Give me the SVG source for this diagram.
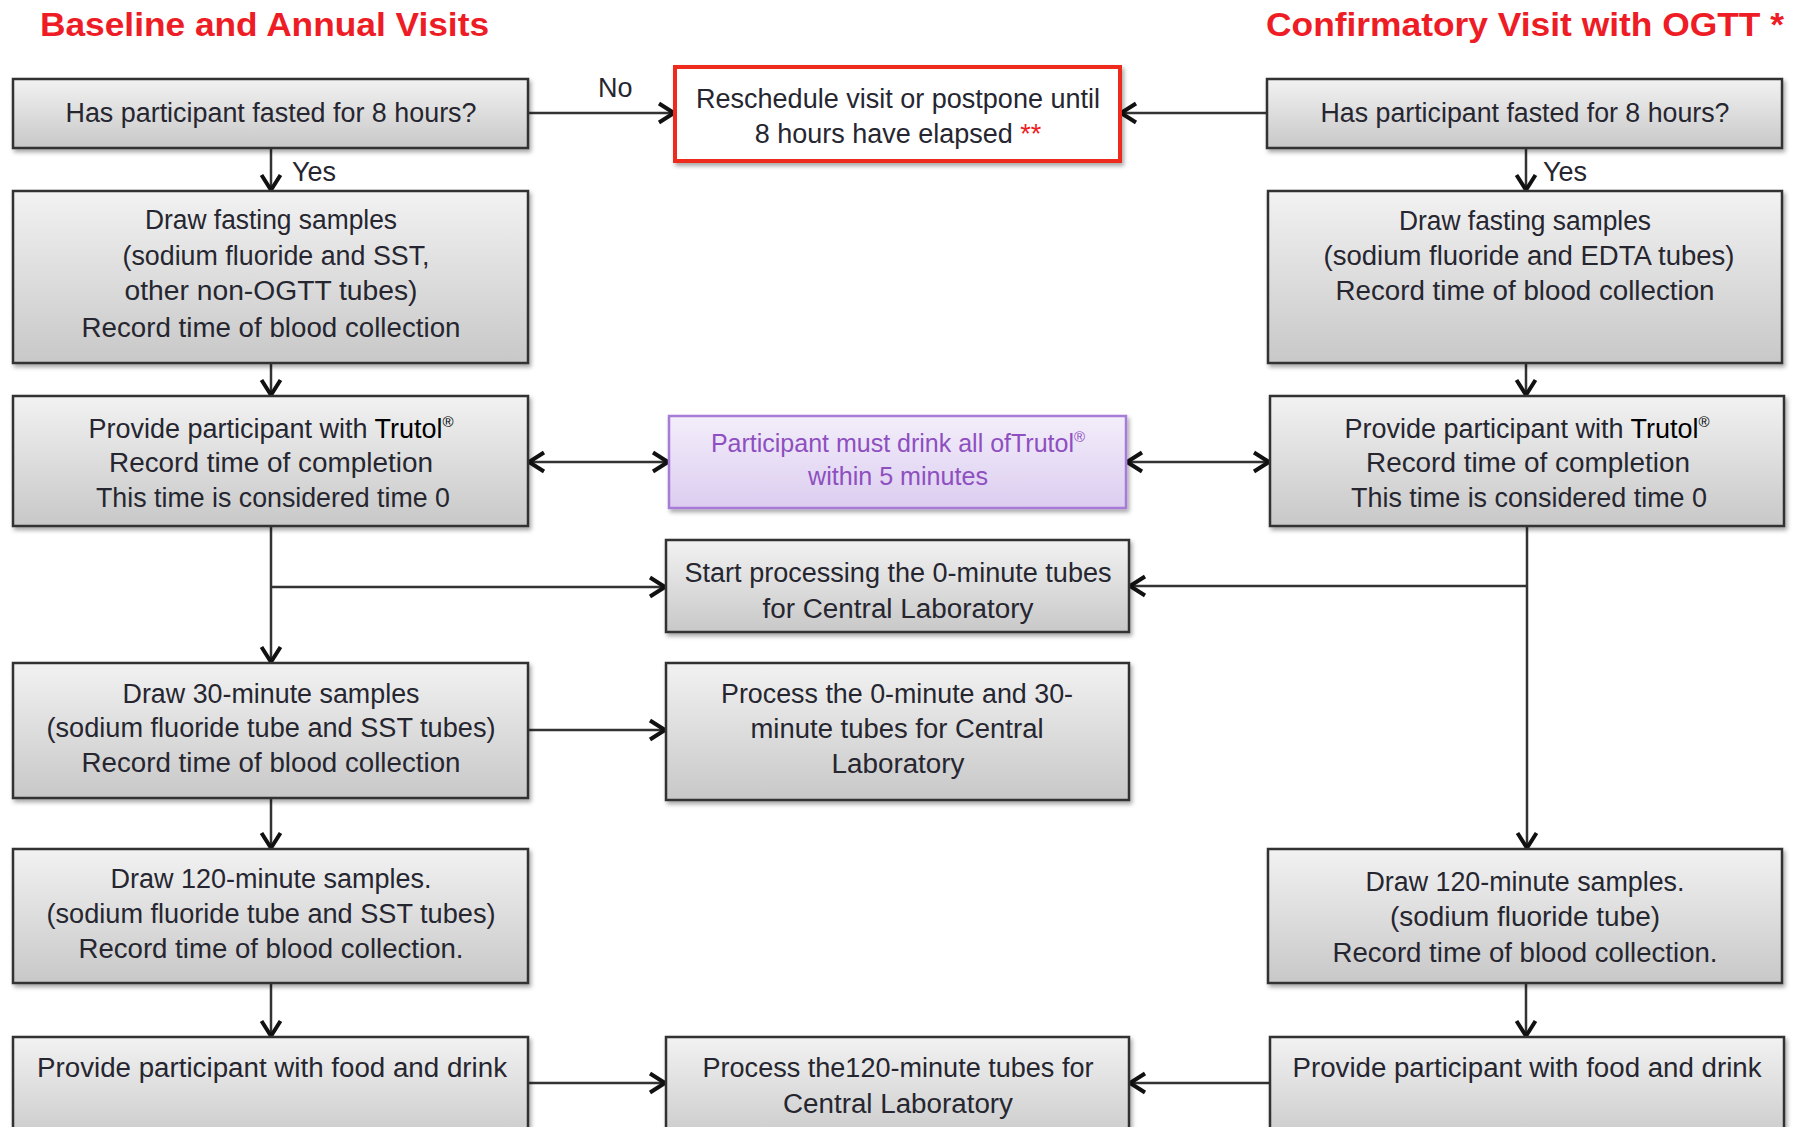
<svg xmlns="http://www.w3.org/2000/svg" width="1801" height="1127" viewBox="0 0 1801 1127">
<defs>
  <linearGradient id="gray" x1="0" y1="0" x2="0" y2="1">
    <stop offset="0" stop-color="#f2f2f2"/>
    <stop offset="1" stop-color="#c8c8c8"/>
  </linearGradient>
  <linearGradient id="purple" x1="0" y1="0" x2="0" y2="1">
    <stop offset="0" stop-color="#f3eefa"/>
    <stop offset="1" stop-color="#dccdf0"/>
  </linearGradient>
  <filter id="shadow" x="-5%" y="-5%" width="112%" height="120%">
    <feDropShadow dx="2" dy="3" stdDeviation="2" flood-color="#000" flood-opacity="0.35"/>
  </filter>
  <marker id="arr" viewBox="-18 -12 21 24" refX="1" refY="0" markerWidth="21" markerHeight="24" markerUnits="userSpaceOnUse" orient="auto-start-reverse">
    <path d="M-15,-9.5 L0,0 L-15,9.5" fill="none" stroke="#111" stroke-width="4"/>
  </marker>
</defs>
<style>
  .box { fill: url(#gray); stroke: #333; stroke-width: 2.5; filter: url(#shadow); }
  .pbox { fill: url(#purple); stroke: #a77bd6; stroke-width: 2.5; filter: url(#shadow); }
  .rbox { fill: #fff; stroke: #ee2b1c; stroke-width: 4; filter: url(#shadow); }
  text { font-family: "Liberation Sans", Arial, sans-serif; }
  .t { font-size: 27px; fill: #262630; text-anchor: middle; }
  .pt { font-size: 25px; fill: #8e4fc0; text-anchor: middle; }
  .lbl { font-size: 27px; fill: #262630; }
  .title { font-size: 34px; font-weight: bold; fill: #ee1c25; }
  .red { fill: #ee1c25; }
  .tru { fill: #000; }
  .sup { font-size: 15px; }
  .conn path { fill: none; stroke: #333; stroke-width: 2.5; }
</style>
<rect width="1801" height="1127" fill="#fff"/>

<text class="title" x="40" y="36" textLength="449" lengthAdjust="spacingAndGlyphs">Baseline and Annual Visits</text>
<text class="title" x="1266" y="36" textLength="518" lengthAdjust="spacingAndGlyphs">Confirmatory Visit with OGTT *</text>

<g id="connectors" class="conn">
  <path d="M528,113 H675" marker-end="url(#arr)"/>
  <path d="M1267,113 H1120" marker-end="url(#arr)"/>
  <path d="M271,148 V191" marker-end="url(#arr)"/>
  <path d="M1526,148 V191" marker-end="url(#arr)"/>
  <path d="M271,363 V396" marker-end="url(#arr)"/>
  <path d="M1526,363 V396" marker-end="url(#arr)"/>
  <path d="M528,462 H669" marker-start="url(#arr)" marker-end="url(#arr)"/>
  <path d="M1126,462 H1270" marker-start="url(#arr)" marker-end="url(#arr)"/>
  <path d="M271,526 V663" marker-end="url(#arr)"/>
  <path d="M271,587 H666" marker-end="url(#arr)"/>
  <path d="M1527,526 V849" marker-end="url(#arr)"/>
  <path d="M1527,586 H1129" marker-end="url(#arr)"/>
  <path d="M528,730 H666" marker-end="url(#arr)"/>
  <path d="M271,798 V849" marker-end="url(#arr)"/>
  <path d="M271,983 V1037" marker-end="url(#arr)"/>
  <path d="M1526,983 V1037" marker-end="url(#arr)"/>
  <path d="M528,1083 H666" marker-end="url(#arr)"/>
  <path d="M1270,1083 H1129" marker-end="url(#arr)"/>
  <text class="lbl" x="598" y="97">No</text>
  <text class="lbl" x="292" y="181">Yes</text>
  <text class="lbl" x="1543" y="181">Yes</text>
</g>

<g id="L1">
  <rect class="box" x="13" y="79" width="515" height="69"/>
  <text class="t" x="271" y="122" textLength="411" lengthAdjust="spacingAndGlyphs">Has participant fasted for 8 hours?</text>
</g>
<g id="L2">
  <rect class="box" x="13" y="191" width="515" height="172"/>
  <text class="t" x="271" y="229" textLength="252" lengthAdjust="spacingAndGlyphs">Draw fasting samples</text>
  <text class="t" x="276" y="265" textLength="307" lengthAdjust="spacingAndGlyphs">(sodium fluoride and SST,</text>
  <text class="t" x="271" y="300" textLength="293" lengthAdjust="spacingAndGlyphs">other non-OGTT tubes)</text>
  <text class="t" x="271" y="337" textLength="379" lengthAdjust="spacingAndGlyphs">Record time of blood collection</text>
</g>
<g id="L3">
  <rect class="box" x="13" y="396" width="515" height="130"/>
  <text class="t" x="271" y="438">Provide participant with <tspan class="tru">Trutol</tspan><tspan class="tru sup" dy="-11">®</tspan></text>
  <text class="t" x="271" y="472" textLength="324" lengthAdjust="spacingAndGlyphs">Record time of completion</text>
  <text class="t" x="273" y="507" textLength="354" lengthAdjust="spacingAndGlyphs">This time is considered time 0</text>
</g>
<g id="L4">
  <rect class="box" x="13" y="663" width="515" height="135"/>
  <text class="t" x="271" y="703" textLength="297" lengthAdjust="spacingAndGlyphs">Draw 30-minute samples</text>
  <text class="t" x="271" y="737" textLength="449" lengthAdjust="spacingAndGlyphs">(sodium fluoride tube and SST tubes)</text>
  <text class="t" x="271" y="772" textLength="379" lengthAdjust="spacingAndGlyphs">Record time of blood collection</text>
</g>
<g id="L5">
  <rect class="box" x="13" y="849" width="515" height="134"/>
  <text class="t" x="271" y="888" textLength="321" lengthAdjust="spacingAndGlyphs">Draw 120-minute samples.</text>
  <text class="t" x="271" y="923" textLength="449" lengthAdjust="spacingAndGlyphs">(sodium fluoride tube and SST tubes)</text>
  <text class="t" x="271" y="958" textLength="385" lengthAdjust="spacingAndGlyphs">Record time of blood collection.</text>
</g>
<g id="L6">
  <rect class="box" x="13" y="1037" width="515" height="110"/>
  <text class="t" x="272" y="1077" textLength="470" lengthAdjust="spacingAndGlyphs">Provide participant with food and drink</text>
</g>

<g id="C1">
  <rect class="rbox" x="675" y="67" width="445" height="94"/>
  <text class="t" x="898" y="108" textLength="404" lengthAdjust="spacingAndGlyphs">Reschedule visit or postpone until</text>
  <text class="t" x="898" y="143">8 hours have elapsed <tspan class="red">**</tspan></text>
</g>
<g id="C2">
  <rect class="pbox" x="669" y="416" width="457" height="92"/>
  <text class="pt" x="898" y="452">Participant must drink all ofTrutol<tspan class="sup" dy="-10">®</tspan></text>
  <text class="pt" x="898" y="485" textLength="180" lengthAdjust="spacingAndGlyphs">within 5 minutes</text>
</g>
<g id="C3">
  <rect class="box" x="666" y="540" width="463" height="92"/>
  <text class="t" x="898" y="582" textLength="427" lengthAdjust="spacingAndGlyphs">Start processing the 0-minute tubes</text>
  <text class="t" x="898" y="618" textLength="271" lengthAdjust="spacingAndGlyphs">for Central Laboratory</text>
</g>
<g id="C4">
  <rect class="box" x="666" y="663" width="463" height="137"/>
  <text class="t" x="897" y="703" textLength="352" lengthAdjust="spacingAndGlyphs">Process the 0-minute and 30-</text>
  <text class="t" x="897" y="738" textLength="293" lengthAdjust="spacingAndGlyphs">minute tubes for Central</text>
  <text class="t" x="898" y="773" textLength="133" lengthAdjust="spacingAndGlyphs">Laboratory</text>
</g>
<g id="C5">
  <rect class="box" x="666" y="1037" width="463" height="110"/>
  <text class="t" x="898" y="1077" textLength="391" lengthAdjust="spacingAndGlyphs">Process the120-minute tubes for</text>
  <text class="t" x="898" y="1113" textLength="230" lengthAdjust="spacingAndGlyphs">Central Laboratory</text>
</g>

<g id="R1">
  <rect class="box" x="1267" y="79" width="515" height="69"/>
  <text class="t" x="1525" y="122" textLength="409" lengthAdjust="spacingAndGlyphs">Has participant fasted for 8 hours?</text>
</g>
<g id="R2">
  <rect class="box" x="1268" y="191" width="514" height="172"/>
  <text class="t" x="1525" y="230" textLength="252" lengthAdjust="spacingAndGlyphs">Draw fasting samples</text>
  <text class="t" x="1529" y="265" textLength="411" lengthAdjust="spacingAndGlyphs">(sodium fluoride and EDTA tubes)</text>
  <text class="t" x="1525" y="300" textLength="379" lengthAdjust="spacingAndGlyphs">Record time of blood collection</text>
</g>
<g id="R3">
  <rect class="box" x="1270" y="396" width="514" height="130"/>
  <text class="t" x="1527" y="438">Provide participant with <tspan class="tru">Trutol</tspan><tspan class="tru sup" dy="-11">®</tspan></text>
  <text class="t" x="1528" y="472" textLength="324" lengthAdjust="spacingAndGlyphs">Record time of completion</text>
  <text class="t" x="1529" y="507" textLength="356" lengthAdjust="spacingAndGlyphs">This time is considered time 0</text>
</g>
<g id="R4">
  <rect class="box" x="1268" y="849" width="514" height="134"/>
  <text class="t" x="1525" y="891" textLength="319" lengthAdjust="spacingAndGlyphs">Draw 120-minute samples.</text>
  <text class="t" x="1525" y="926" textLength="270" lengthAdjust="spacingAndGlyphs">(sodium fluoride tube)</text>
  <text class="t" x="1525" y="962" textLength="385" lengthAdjust="spacingAndGlyphs">Record time of blood collection.</text>
</g>
<g id="R5">
  <rect class="box" x="1270" y="1037" width="514" height="110"/>
  <text class="t" x="1527" y="1077" textLength="469" lengthAdjust="spacingAndGlyphs">Provide participant with food and drink</text>
</g>
</svg>
